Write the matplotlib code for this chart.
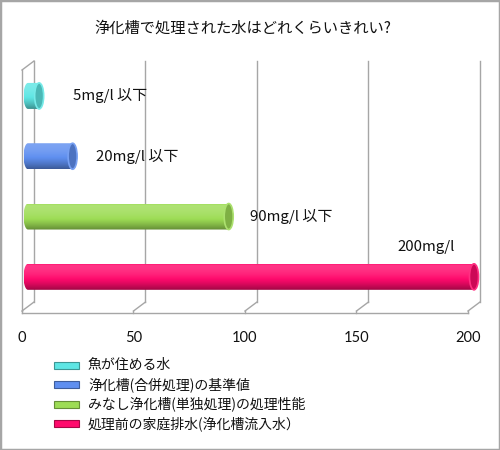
import numpy as np
import matplotlib
matplotlib.use("Agg")
import matplotlib.pyplot as plt
from matplotlib.patches import Ellipse, Rectangle, PathPatch
from matplotlib.path import Path
from matplotlib.transforms import blended_transform_factory
from matplotlib.colors import to_rgb

plt.rcParams['font.family'] = ['Noto Sans CJK JP', 'DejaVu Sans']

# ---- data -------------------------------------------------------------
title = "浄化槽で処理された水はどれくらいきれい?"
series_names = ["魚が住める水",
                "浄化槽(合併処理)の基準値",
                "みなし浄化槽(単独処理)の処理性能",
                "処理前の家庭排水(浄化槽流入水）"]
values = [5, 20, 90, 200]
value_labels = ["5mg/l 以下", "20mg/l 以下", "90mg/l 以下", "200mg/l"]
x_ticks = [0, 50, 100, 150, 200]
colors = ["#5ee6e4", "#5f8ff0", "#9ddc55", "#ff0a6c"]

# ---- layout -----------------------------------------------------------
W, H, DPI = 500, 450, 100
fig = plt.figure(figsize=(W / DPI, H / DPI), dpi=DPI)
fig.patch.set_facecolor("white")

XMAX = 200
XLIM = 215                           # room for the end cap of the longest bar
AX_L, AX_T, AX_B = 22, 70, 313
PX_X = XMAX / (468 - AX_L)           # data units per pixel (x)
AX_R = AX_L + XLIM / PX_X
ax = fig.add_axes([AX_L / W, (H - AX_B) / H, (AX_R - AX_L) / W, (AX_B - AX_T) / H])
ax.set_facecolor("none")
YLO, YHI = -0.6, 3.43
PX_Y = (YHI - YLO) / (AX_B - AX_T)   # data units per pixel (y)
PX_A = 1.0 / (AX_B - AX_T)           # axes fraction per pixel (y)

grid_c = "#a6a6a6"
DEPTH_X, DEPTH_Y = 12 * PX_X, 9 * PX_A
FLOOR = 2 * PX_A
bt = blended_transform_factory(ax.transData, ax.transAxes)

# side wall
ax.plot([0, 0], [FLOOR, 1], color=grid_c, lw=1, transform=bt, clip_on=False)
ax.plot([0, DEPTH_X], [1, 1 + DEPTH_Y], color=grid_c, lw=1, transform=bt, clip_on=False)
# back wall grid and floor edges
for xt in x_ticks:
    ax.plot([xt + DEPTH_X] * 2, [FLOOR + DEPTH_Y, 1 + DEPTH_Y], color=grid_c, lw=1,
            transform=bt, clip_on=False)
    ax.plot([xt, xt + DEPTH_X], [FLOOR, FLOOR + DEPTH_Y], color=grid_c, lw=1,
            transform=bt, clip_on=False)
    ax.plot([xt, xt], [0, FLOOR], color=grid_c, lw=1, transform=bt, clip_on=False)


def shade(base, f):
    c = np.array(to_rgb(base))
    return c + (1 - c) * f if f >= 0 else c * (1 + f)


# cylinders
BAR_SHIFT = 6 * PX_X
CAP_A = 4.5 * PX_X
BAR_H = 26 * PX_Y
t = np.linspace(0, 1, 64)
prof = 0.18 - 0.55 * t ** 2
prof[:2] -= 0.12
ypos = [3, 2, 1, 0]
for v, yc, col in zip(values, ypos, colors):
    x0, x1, b = BAR_SHIFT, BAR_SHIFT + v, BAR_H / 2
    th = np.linspace(np.pi / 2, -np.pi / 2, 30)
    right = np.column_stack([x1 + CAP_A * np.cos(th), yc + b * np.sin(th)])
    th2 = np.linspace(-np.pi / 2, -3 * np.pi / 2, 30)
    left = np.column_stack([x0 + CAP_A * np.cos(th2), yc + b * np.sin(th2)])
    verts = np.vstack([[x0, yc + b], right, left, [x0, yc + b]])
    path = Path(verts, closed=True)
    clip = PathPatch(path, facecolor="none", edgecolor="none", transform=ax.transData)
    ax.add_patch(clip)
    grad = np.array([shade(col, f) for f in prof])[:, None, :]
    im = ax.imshow(grad, extent=[x0 - CAP_A, x1 + CAP_A, yc - b, yc + b],
                   origin="upper", aspect="auto", interpolation="bilinear", zorder=3)
    im.set_clip_path(clip)
    ax.add_patch(Ellipse((x1, yc), 2 * CAP_A, BAR_H, facecolor=shade(col, -0.2),
                         edgecolor=shade(col, 0.15), lw=1.2, zorder=4))

# value labels
label_x = [23, 33.2, 102.2, 168.2]
label_dy = [0, 0, 0, 0.5]
for lx, yc, dy, txt in zip(label_x, ypos, label_dy, value_labels):
    ax.text(lx, yc + dy, txt, ha="left", va="center", fontsize=10.8, color="#111111", zorder=5)

ax.set_xlim(0, XLIM)
ax.set_ylim(YLO, YHI)
ax.set_xticks(x_ticks)
ax.set_xticklabels([str(v) for v in x_ticks], family="Lato", fontsize=10.5, color="#111111")
ax.set_yticks([])
ax.tick_params(axis="x", length=0, pad=13)
for s in ["top", "right", "left"]:
    ax.spines[s].set_visible(False)
ax.spines["bottom"].set_color(grid_c)
ax.spines["bottom"].set_linewidth(1)
ax.spines["bottom"].set_bounds(0, XMAX)

# title
fig.text(243 / W, 1 - 28 / H, title, ha="center", va="center", fontsize=11, color="#111111")

# legend
row_y = [365, 384.5, 404, 423.5]
for name, col, ry in zip(series_names, colors, row_y):
    fig.add_artist(Rectangle((54 / W, 1 - (ry + 3.5) / H), 25 / W, 7 / H,
                             transform=fig.transFigure, facecolor=col,
                             edgecolor=shade(col, -0.35), lw=0.8))
    fig.text(88 / W, 1 - ry / H, name, ha="left", va="center", fontsize=10, color="#111111")

# outer frame
fig.add_artist(Rectangle((0, 0), 1, 1, transform=fig.transFigure, fill=False,
                         edgecolor="#a6a6a6", lw=2.5))

fig.savefig("out.png", dpi=DPI)
